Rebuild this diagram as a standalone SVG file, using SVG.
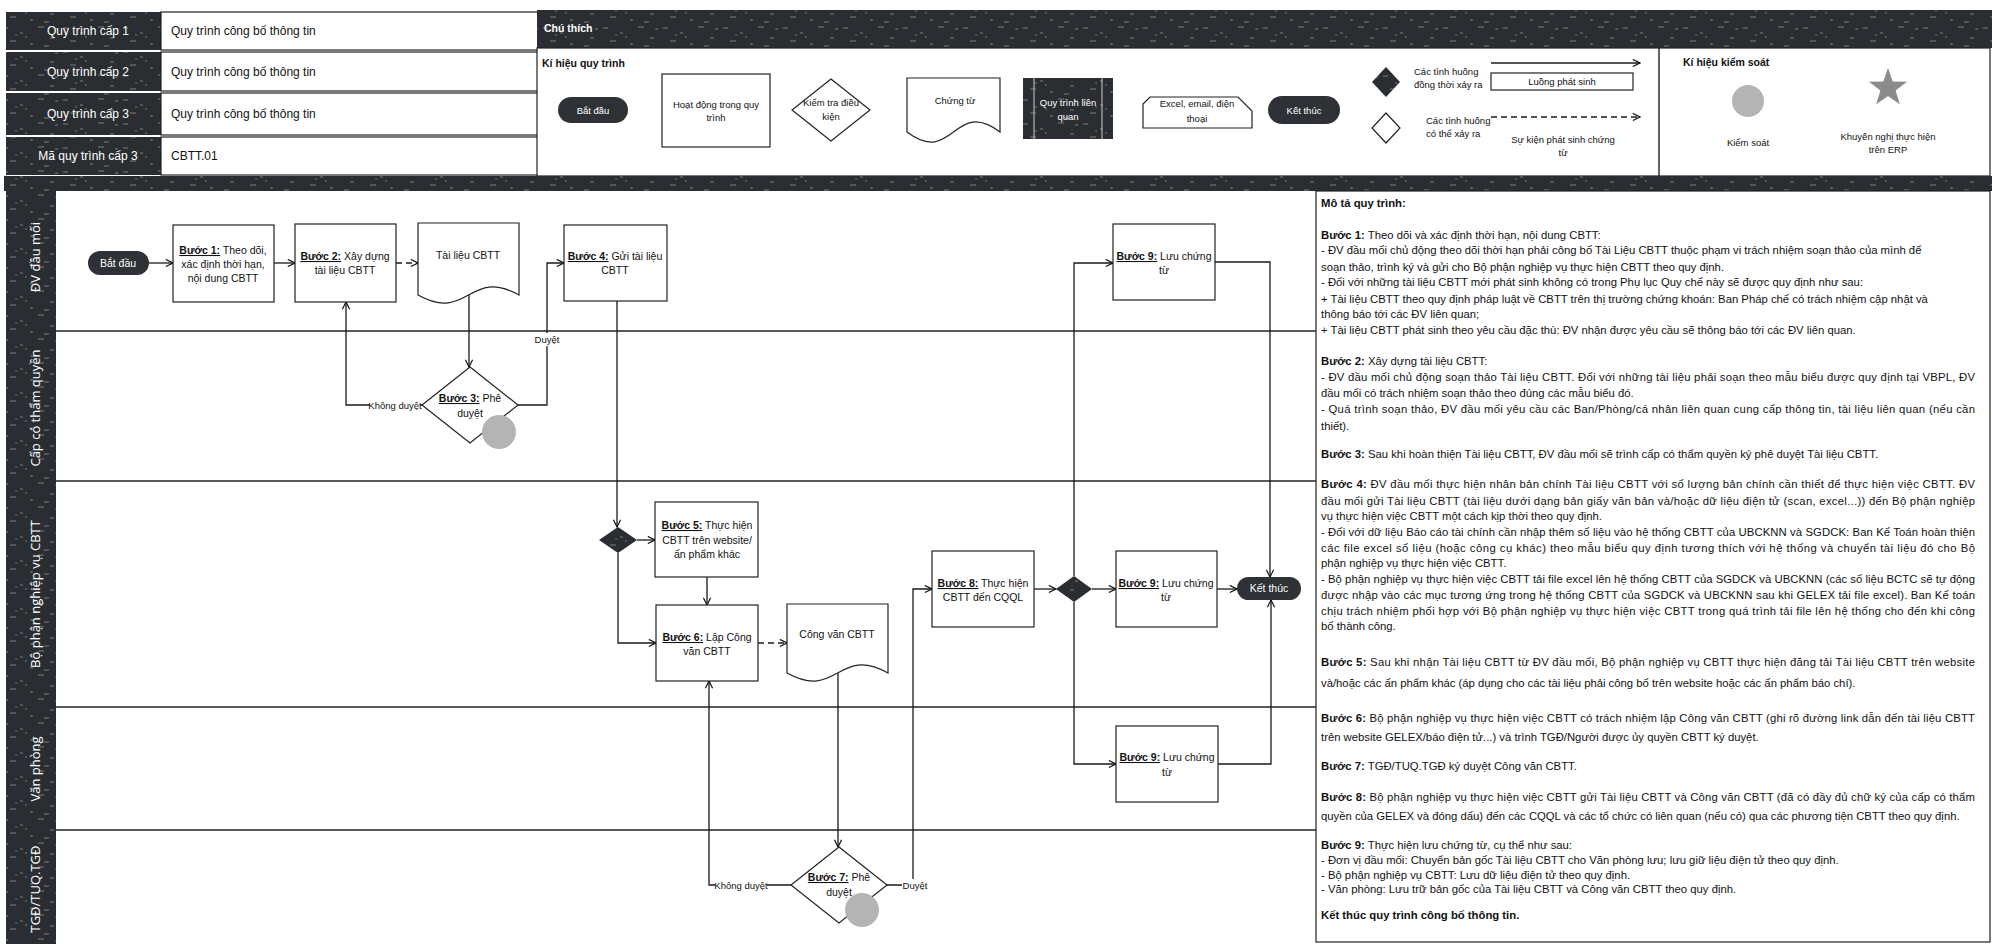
<svg xmlns="http://www.w3.org/2000/svg" width="1992" height="944" viewBox="0 0 1992 944">
<defs>
<pattern id="spk" width="60" height="24" patternUnits="userSpaceOnUse">
<rect width="60" height="24" fill="#2a2d31"/>
<path d="M3 4h5M20 9h3M38 3h6M50 14h4M10 17h6M30 20h3M44 22h5M25 13h2M55 5h3M15 11h2" stroke="#d0d0d0" stroke-width="1" opacity="0.5"/>
</pattern>
<marker id="ah" viewBox="0 0 10 10" refX="9" refY="5" markerWidth="9" markerHeight="9" markerUnits="userSpaceOnUse" orient="auto">
<path d="M1,1 L9,5 L1,9" fill="none" stroke="#111" stroke-width="1.3"/>
</marker>
<style>
text{font-family:"Liberation Sans",Arial,sans-serif;fill:#111}
.hl{font-size:12px;fill:#fff;text-anchor:middle}
.hv{font-size:12px}
.lg{font-size:9.5px}
.lgc{font-size:9.5px;text-anchor:middle}
.wc{fill:#fff}
.bx{font-size:10.5px;text-anchor:middle}
.lb{font-size:9.5px;text-anchor:middle}
.p{font-size:11.3px}
.b{font-weight:bold}
.u{font-weight:bold;text-decoration:underline}
.lane{font-family:"Open Sans","Noto Sans",sans-serif;font-size:13px;fill:#fff;text-anchor:middle}
.box{fill:#fff;stroke:#222;stroke-width:1.2}
.dk{fill:url(#spk)}
.pill{fill:#2e3135}
.ctl{fill:#b4b4b4}
.ln{fill:none;stroke:#1a1a1a;stroke-width:1.3}
.ar{marker-end:url(#ah)}
.da{stroke-dasharray:6 4}
.sep{stroke:#222;stroke-width:1.4}
.bg{fill:#fff}
</style>
</defs>
<rect width="1992" height="944" fill="#fff"/>

<g id="header">
<rect class="dk" x="6" y="12" width="155" height="38"/>
<rect class="dk" x="6" y="52" width="155" height="39"/>
<rect class="dk" x="6" y="93" width="155" height="42"/>
<rect class="dk" x="6" y="137" width="155" height="38"/>
<rect class="box" x="161" y="12" width="377" height="38"/>
<rect class="box" x="161" y="52" width="377" height="39"/>
<rect class="box" x="161" y="93" width="377" height="42"/>
<rect class="box" x="161" y="137" width="377" height="38"/>
<text class="hl" x="88" y="35">Quy trình cấp 1</text>
<text class="hl" x="88" y="76">Quy trình cấp 2</text>
<text class="hl" x="88" y="118">Quy trình cấp 3</text>
<text class="hl" x="88" y="160">Mã quy trình cấp 3</text>
<text class="hv" x="171" y="35">Quy trình công bố thông tin</text>
<text class="hv" x="171" y="76">Quy trình công bố thông tin</text>
<text class="hv" x="171" y="118">Quy trình công bố thông tin</text>
<text class="hv" x="171" y="160">CBTT.01</text>
</g>

<g id="legend">
<rect class="dk" x="537" y="10" width="1455" height="38"/>
<text class="lg b wc" x="544" y="32" style="font-size:10.5px">Chú thích</text>
<rect class="box" x="537" y="48" width="1453" height="128"/>
<line class="sep" x1="1659" y1="48" x2="1659" y2="176"/>
<text class="lg b" x="542" y="67" style="font-size:10.5px">Kí hiệu quy trình</text>
<rect class="pill" x="558" y="97" width="70" height="26" rx="13"/>
<text class="lgc wc" x="593" y="114">Bắt đầu</text>
<rect class="box" x="662" y="74" width="108" height="73"/>
<text class="lgc" x="716" y="108">Hoạt động trong quy</text>
<text class="lgc" x="716" y="121">trình</text>
<polygon class="box" points="831,79 870,110 831,141 792,110"/>
<text class="lgc" x="831" y="106">Kiểm tra điều</text>
<text class="lgc" x="831" y="120">kiện</text>
<path class="box" d="M907,78 H1000 V132 C953.5,97 953.5,167 907,132 Z"/>
<text class="lgc" x="955" y="104">Chứng từ</text>
<rect class="dk" x="1023" y="78" width="90" height="61"/>
<line x1="1034" y1="78" x2="1034" y2="139" stroke="#ccc" stroke-width="1"/>
<line x1="1102" y1="78" x2="1102" y2="139" stroke="#ccc" stroke-width="1"/>
<text class="lgc wc" x="1068" y="106">Quy trình liên</text>
<text class="lgc wc" x="1068" y="120">quan</text>
<path class="box" d="M1150,97 H1238 L1252,111 V128 H1143 V104 Z"/>
<text class="lgc" x="1197" y="107">Excel, email, điện</text>
<text class="lgc" x="1197" y="122">thoại</text>
<rect class="pill" x="1268" y="96" width="72" height="28" rx="14"/>
<text class="lgc wc" x="1304" y="114">Kết thúc</text>
<polygon class="dk" points="1386,67 1400,82 1386,97 1372,82"/>
<text class="lg" x="1414" y="75">Các tình huống</text>
<text class="lg" x="1414" y="88">đồng thời xảy ra</text>
<line class="ln ar" x1="1491" y1="63" x2="1640" y2="63"/>
<rect class="box" x="1491" y="73" width="142" height="17"/>
<text class="lgc" x="1562" y="85">Luồng phát sinh</text>
<polygon class="box" points="1386,113 1400,128 1386,143 1372,128"/>
<text class="lg" x="1426" y="124">Các tình huống</text>
<text class="lg" x="1426" y="137">có thể xảy ra</text>
<line class="ln ar da" x1="1491" y1="117" x2="1640" y2="117"/>
<text class="lgc" x="1563" y="143">Sự kiện phát sinh chứng</text>
<text class="lgc" x="1563" y="156">từ</text>
<text class="lg b" x="1683" y="66" style="font-size:10.5px">Kí hiệu kiểm soát</text>
<circle class="ctl" cx="1748" cy="101" r="16"/>
<text class="lgc" x="1748" y="146">Kiểm soát</text>
<polygon fill="#8a8a8a" points="1888,68 1892.7,81.5 1907,81.8 1895.6,90.5 1899.8,104.2 1888,96 1876.2,104.2 1880.4,90.5 1869,81.8 1883.3,81.5"/>
<text class="lgc" x="1888" y="140">Khuyến nghị thực hiện</text>
<text class="lgc" x="1888" y="153">trên ERP</text>
</g>

<g id="lanes">
<rect class="dk" x="4" y="176" width="1988" height="15"/>
<rect class="dk" x="6" y="191" width="50" height="753"/>
<line class="sep" x1="56" y1="331" x2="1316" y2="331"/>
<line class="sep" x1="56" y1="481" x2="1316" y2="481"/>
<line class="sep" x1="56" y1="707" x2="1316" y2="707"/>
<line class="sep" x1="56" y1="830" x2="1316" y2="830"/>
<text class="lane" transform="translate(40,257) rotate(-90)">ĐV đầu mối</text>
<text class="lane" transform="translate(40,408) rotate(-90)">Cấp có thẩm quyền</text>
<text class="lane" transform="translate(40,594) rotate(-90)">Bộ phận nghiệp vụ CBTT</text>
<text class="lane" transform="translate(40,769) rotate(-90)">Văn phòng</text>
<text class="lane" transform="translate(40,889) rotate(-90)">TGĐ/TUQ.TGĐ</text>
</g>

<g id="connectors">
<path class="ln ar" d="M149,263 H173"/>
<path class="ln ar" d="M274,263 H295"/>
<path class="ln ar da" d="M396,263 H418"/>
<path class="ln ar" d="M469,295 V367"/>
<path class="ln ar" d="M422,405 H346 V302"/>
<path class="ln ar" d="M518,405 H547 V263 H564"/>
<path class="ln ar" d="M617,301 V527"/>
<path class="ln ar" d="M637,540 H655"/>
<path class="ln ar" d="M618,553 V643 H656"/>
<path class="ln ar" d="M707,577 V605"/>
<path class="ln ar da" d="M758,643 H787"/>
<path class="ln ar" d="M838,673 V847"/>
<path class="ln ar" d="M791,885 H709 V681"/>
<path class="ln ar" d="M887,885 H913 V589 H932"/>
<path class="ln ar" d="M1034,589 H1056"/>
<path class="ln ar" d="M1092,589 H1116"/>
<path class="ln ar" d="M1074,576 V263 H1113"/>
<path class="ln ar" d="M1074,602 V764 H1116"/>
<path class="ln ar" d="M1215,262 H1270 V577"/>
<path class="ln ar" d="M1217,589 H1237"/>
<path class="ln ar" d="M1218,764 H1271 V600"/>
<rect class="bg" x="370" y="399" width="50" height="13"/>
<text class="lb" x="395" y="409">Không duyệt</text>
<rect class="bg" x="534" y="333" width="27" height="13"/>
<text class="lb" x="547" y="343">Duyệt</text>
<rect class="bg" x="715" y="879" width="52" height="13"/>
<text class="lb" x="741" y="889">Không duyệt</text>
<rect class="bg" x="902" y="879" width="26" height="13"/>
<text class="lb" x="915" y="889">Duyệt</text>
</g>

<g id="n-start"><rect class="pill" x="88" y="251" width="61" height="24" rx="12"/><text class="bx wc" x="118" y="267">Bắt đầu</text></g>
<g id="n-b1"><rect class="box" x="173" y="225" width="101" height="77"/><text class="bx" x="223" y="254"><tspan class="u">Bước 1:</tspan> Theo dõi,</text><text class="bx" x="223" y="268">xác định thời hạn,</text><text class="bx" x="223" y="282">nội dung CBTT</text></g>
<g id="n-b2"><rect class="box" x="295" y="224" width="101" height="78"/><text class="bx" x="345" y="260"><tspan class="u">Bước 2:</tspan> Xây dựng</text><text class="bx" x="345" y="274">tài liệu CBTT</text></g>
<g id="n-doc1"><path class="box" d="M418,223 H519 V295 C468.5,267 468.5,323 418,295 Z"/><text class="bx" x="468" y="259">Tài liệu CBTT</text></g>
<g id="n-b3"><polygon class="box" points="470,367 518,405 470,443 422,405"/><text class="bx" x="470" y="402"><tspan class="u">Bước 3:</tspan> Phê</text><text class="bx" x="470" y="417">duyệt</text><circle class="ctl" cx="499" cy="432" r="17"/></g>
<g id="n-b4"><rect class="box" x="564" y="225" width="103" height="76"/><text class="bx" x="615" y="260"><tspan class="u">Bước 4:</tspan> Gửi tài liệu</text><text class="bx" x="615" y="274">CBTT</text></g>
<g id="n-split1"><polygon class="dk" points="618,527 637,540 618,553 599,540"/></g>
<g id="n-b5"><rect class="box" x="655" y="502" width="103" height="75"/><text class="bx" x="707" y="529"><tspan class="u">Bước 5:</tspan> Thực hiện</text><text class="bx" x="707" y="544">CBTT trên website/</text><text class="bx" x="707" y="558">ấn phẩm khác</text></g>
<g id="n-b6"><rect class="box" x="656" y="605" width="102" height="76"/><text class="bx" x="707" y="641"><tspan class="u">Bước 6:</tspan> Lập Công</text><text class="bx" x="707" y="655">văn CBTT</text></g>
<g id="n-doc2"><path class="box" d="M787,604 H888 V673 C837.5,645 837.5,701 787,673 Z"/><text class="bx" x="837" y="638">Công văn CBTT</text></g>
<g id="n-b7"><polygon class="box" points="839,847 887,885 839,923 791,885"/><text class="bx" x="839" y="881"><tspan class="u">Bước 7:</tspan> Phê</text><text class="bx" x="839" y="896">duyệt</text><circle class="ctl" cx="862" cy="910" r="17"/></g>
<g id="n-b8"><rect class="box" x="932" y="551" width="102" height="76"/><text class="bx" x="983" y="587"><tspan class="u">Bước 8:</tspan> Thực hiện</text><text class="bx" x="983" y="601">CBTT đến CQQL</text></g>
<g id="n-split2"><polygon class="dk" points="1074,576 1092,589 1074,602 1056,589"/></g>
<g id="n-b9a"><rect class="box" x="1113" y="224" width="102" height="76"/><text class="bx" x="1164" y="260"><tspan class="u">Bước 9:</tspan> Lưu chứng</text><text class="bx" x="1164" y="274">từ</text></g>
<g id="n-b9b"><rect class="box" x="1116" y="551" width="101" height="76"/><text class="bx" x="1166" y="587"><tspan class="u">Bước 9:</tspan> Lưu chứng</text><text class="bx" x="1166" y="601">từ</text></g>
<g id="n-b9c"><rect class="box" x="1116" y="726" width="102" height="76"/><text class="bx" x="1167" y="761"><tspan class="u">Bước 9:</tspan> Lưu chứng</text><text class="bx" x="1167" y="776">từ</text></g>
<g id="n-end"><rect class="pill" x="1237" y="577" width="64" height="23" rx="11.5"/><text class="bx wc" x="1269" y="592">Kết thúc</text></g>

<g id="description">
<rect class="box" x="1316" y="191" width="674" height="751"/>
<text class="p b" x="1321" y="207">Mô tả quy trình:</text>
<text class="p" x="1321" y="239"><tspan class="b">Bước 1:</tspan> Theo dõi và xác định thời hạn, nội dung CBTT:</text>
<text class="p" x="1321" y="254">- ĐV đầu mối chủ động theo dõi thời hạn phải công bố Tài Liệu CBTT thuộc phạm vi trách nhiệm soạn thảo của mình để</text>
<text class="p" x="1321" y="271">soạn thảo, trình ký và gửi cho Bộ phận nghiệp vụ thực hiện CBTT theo quy định.</text>
<text class="p" x="1321" y="286">- Đối với những tài liệu CBTT mới phát sinh không có trong Phụ lục Quy chế này sẽ được quy định như sau:</text>
<text class="p" x="1321" y="303">+ Tài liệu CBTT theo quy định pháp luật về CBTT trên thị trường chứng khoán: Ban Pháp chế có trách nhiệm cập nhật và</text>
<text class="p" x="1321" y="318">thông báo tới các ĐV liên quan;</text>
<text class="p" x="1321" y="334">+ Tài liệu CBTT phát sinh theo yêu cầu đặc thù: ĐV nhận được yêu cầu sẽ thông báo tới các ĐV liên quan.</text>
<text class="p" x="1321" y="365"><tspan class="b">Bước 2:</tspan> Xây dựng tài liệu CBTT:</text>
<text class="p" x="1321" y="381" textLength="654" lengthAdjust="spacing">- ĐV đầu mối chủ động soạn thảo Tài liệu CBTT. Đối với những tài liệu phải soạn theo mẫu biểu được quy định tại VBPL, ĐV</text>
<text class="p" x="1321" y="397">đầu mối có trách nhiệm soạn thảo theo đúng các mẫu biểu đó.</text>
<text class="p" x="1321" y="413" textLength="654" lengthAdjust="spacing">- Quá trình soạn thảo, ĐV đầu mối yêu cầu các Ban/Phòng/cá nhân liên quan cung cấp thông tin, tài liệu liên quan (nếu cần</text>
<text class="p" x="1321" y="430">thiết).</text>
<text class="p" x="1321" y="458"><tspan class="b">Bước 3:</tspan> Sau khi hoàn thiện Tài liệu CBTT, ĐV đầu mối sẽ trình cấp có thẩm quyền ký phê duyệt Tài liệu CBTT.</text>
<text class="p" x="1321" y="488" textLength="654" lengthAdjust="spacing"><tspan class="b">Bước 4:</tspan> ĐV đầu mối thực hiện nhân bản chính Tài liệu CBTT với số lượng bản chính cần thiết để thực hiện việc CBTT. ĐV</text>
<text class="p" x="1321" y="505" textLength="654" lengthAdjust="spacing">đầu mối gửi Tài liệu CBTT (tài liệu dưới dạng bản giấy văn bản và/hoặc dữ liệu điện tử (scan, excel...)) đến Bộ phận nghiệp</text>
<text class="p" x="1321" y="520">vụ thực hiện việc CBTT một cách kịp thời theo quy định.</text>
<text class="p" x="1321" y="536" textLength="654" lengthAdjust="spacing">- Đối với dữ liệu Báo cáo tài chính cần nhập thêm số liệu vào hệ thống CBTT của UBCKNN và SGDCK: Ban Kế Toán hoàn thiện</text>
<text class="p" x="1321" y="552" textLength="654" lengthAdjust="spacing">các file excel số liệu (hoặc công cụ khác) theo mẫu biểu quy định tương thích với hệ thống và chuyển tài liệu đó cho Bộ</text>
<text class="p" x="1321" y="567">phận nghiệp vụ thực hiện việc CBTT.</text>
<text class="p" x="1321" y="583" textLength="654" lengthAdjust="spacing">- Bộ phận nghiệp vụ thực hiện việc CBTT tải file excel lên hệ thống CBTT của SGDCK và UBCKNN (các số liệu BCTC sẽ tự động</text>
<text class="p" x="1321" y="599" textLength="654" lengthAdjust="spacing">được nhập vào các mục tương ứng trong hệ thống CBTT của SGDCK và UBCKNN sau khi GELEX tải file excel). Ban Kế toán</text>
<text class="p" x="1321" y="615" textLength="654" lengthAdjust="spacing">chịu trách nhiệm phối hợp với Bộ phận nghiệp vụ thực hiện việc CBTT trong quá trình tải file lên hệ thống cho đến khi công</text>
<text class="p" x="1321" y="630">bố thành công.</text>
<text class="p" x="1321" y="666" textLength="654" lengthAdjust="spacing"><tspan class="b">Bước 5:</tspan> Sau khi nhận Tài liệu CBTT từ ĐV đầu mối, Bộ phận nghiệp vụ CBTT thực hiện đăng tải Tài liệu CBTT trên website</text>
<text class="p" x="1321" y="687">và/hoặc các ấn phẩm khác (áp dụng cho các tài liệu phải công bố trên website hoặc các ấn phẩm báo chí).</text>
<text class="p" x="1321" y="722" textLength="654" lengthAdjust="spacing"><tspan class="b">Bước 6:</tspan> Bộ phận nghiệp vụ thực hiện việc CBTT có trách nhiệm lập Công văn CBTT (ghi rõ đường link dẫn đến tài liệu CBTT</text>
<text class="p" x="1321" y="741">trên website GELEX/báo điện tử...) và trình TGĐ/Người được ủy quyền CBTT ký duyệt.</text>
<text class="p" x="1321" y="770"><tspan class="b">Bước 7:</tspan> TGĐ/TUQ.TGĐ ký duyệt Công văn CBTT.</text>
<text class="p" x="1321" y="801" textLength="654" lengthAdjust="spacing"><tspan class="b">Bước 8:</tspan> Bộ phận nghiệp vụ thực hiện việc CBTT gửi Tài liệu CBTT và Công văn CBTT (đã có đầy đủ chữ ký của cấp có thẩm</text>
<text class="p" x="1321" y="820">quyền của GELEX và đóng dấu) đến các CQQL và các tổ chức có liên quan (nếu có) qua các phương tiện CBTT theo quy định.</text>
<text class="p" x="1321" y="849"><tspan class="b">Bước 9:</tspan> Thực hiện lưu chứng từ, cụ thể như sau:</text>
<text class="p" x="1321" y="864">- Đơn vị đầu mối: Chuyển bản gốc Tài liệu CBTT cho Văn phòng lưu; lưu giữ liệu điện tử theo quy định.</text>
<text class="p" x="1321" y="879">- Bộ phận nghiệp vụ CBTT: Lưu dữ liệu điện tử theo quy định.</text>
<text class="p" x="1321" y="893">- Văn phòng: Lưu trữ bản gốc của Tài liệu CBTT và Công văn CBTT theo quy định.</text>
<text class="p b" x="1321" y="919">Kết thúc quy trình công bố thông tin.</text>
</g>
</svg>
